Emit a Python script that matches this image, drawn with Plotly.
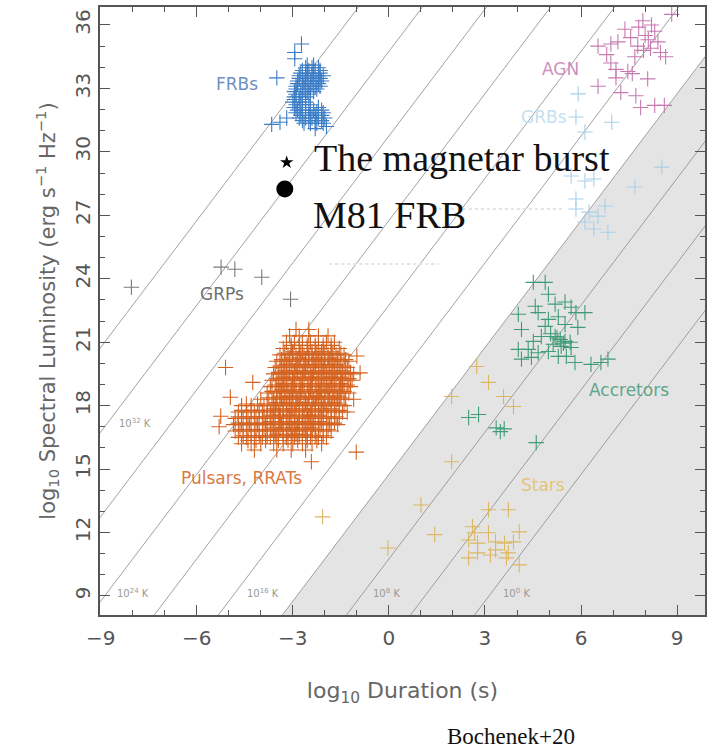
import plotly.graph_objects as go

# Axis extents (log10 duration in s, log10 spectral luminosity in erg/s/Hz)
X_RANGE = [-9.02, 9.87]
Y_RANGE = [8.1, 36.85]

# Constant brightness-temperature lines: log L = 2 log W + log T_B + TB_OFFSET
temp_exponents = [36, 32, 28, 24, 20, 16, 12, 8, 4, 0]
coherent_limit = 12
TB_OFFSET = 2.75

temp_label_text = ["10<sup>32</sup> K", "10<sup>24</sup> K", "10<sup>16</sup> K",
                   "10<sup>8</sup> K", "10<sup>0</sup> K"]
temp_label_x = [-7.94, -7.98, -3.94, -0.09, 3.98]
temp_label_y = [17.2, 9.14, 9.14, 9.14, 9.14]

# ---- populations -------------------------------------------------------
frb_rows = [
    (34.1, [-2.55, -2.35]),
    (33.975, [-2.6, -2.4, -2.2]),
    (33.85, [-2.7, -2.5, -2.3, -2.15]),
    (33.725, [-2.75, -2.55, -2.35, -2.15]),
    (33.6, [-2.8, -2.6, -2.4, -2.2, -2.05]),
    (33.475, [-2.8, -2.55, -2.35, -2.15]),
    (33.35, [-2.85, -2.65, -2.45, -2.25, -2.1]),
    (33.225, [-2.85, -2.6, -2.4, -2.2]),
    (33.1, [-2.9, -2.7, -2.5, -2.3, -2.15]),
    (32.975, [-2.9, -2.65, -2.45, -2.25]),
    (32.85, [-2.95, -2.75, -2.55, -2.35]),
    (32.725, [-2.9, -2.7, -2.5]),
    (32.6, [-2.95, -2.8, -2.6]),
    (32.475, [-2.95, -2.7]),
    (32.35, [-3.0, -2.8, -2.6]),
    (32.225, [-2.9, -2.7, -2.45]),
    (32.1, [-2.95, -2.75, -2.5, -2.2]),
    (31.975, [-2.85, -2.6, -2.35, -2.1]),
    (31.85, [-2.9, -2.7, -2.45, -2.25, -2.05]),
    (31.725, [-2.75, -2.5, -2.3, -2.1]),
    (31.6, [-2.8, -2.6, -2.4, -2.2, -2.0]),
    (31.475, [-2.7, -2.5, -2.3, -2.1]),
    (31.35, [-2.65, -2.45, -2.25, -2.05]),
]
frb_extra_x = [-2.73, -2.94, -2.94, -3.5, -3.66, -3.19, -1.95, -3.4, -2.3]
frb_extra_y = [35.1, 34.7, 34.4, 33.5, 31.3, 31.6, 31.2, 31.4, 31.1]

grp_x = [-8.04, -5.24, -4.81, -3.97, -3.07]
grp_y = [23.6, 24.55, 24.45, 24.07, 23.03]

pulsar_rows = [
    (21.6, [-2.9, -2.5]),
    (21.3, [-3.1, -2.8, -2.5, -2.2, -1.9]),
    (21.0, [-3.2, -2.95, -2.7, -2.45, -2.2, -1.95, -1.7]),
    (20.85, [-3.05, -2.8, -2.55, -2.3, -2.05, -1.8]),
    (20.7, [-3.3, -3.05, -2.8, -2.55, -2.3, -2.05, -1.8, -1.55]),
    (20.55, [-3.0, -2.7, -2.4, -2.1, -1.8]),
    (20.475, [-3.25, -3.0, -2.75, -2.5, -2.25, -2.0, -1.75, -1.5]),
    (20.4, [-3.4, -3.15, -2.9, -2.65, -2.4, -2.15, -1.9, -1.65, -1.4]),
    (20.25, [-3.1, -2.8, -2.5, -2.2, -1.9, -1.6]),
    (20.175, [-3.35, -3.1, -2.85, -2.6, -2.35, -2.1, -1.85, -1.6, -1.35]),
    (20.1, [-3.5, -3.25, -3.0, -2.75, -2.5, -2.25, -2.0, -1.75, -1.5, -1.25]),
    (19.95, [-3.2, -2.9, -2.6, -2.3, -2.0, -1.7]),
    (19.875, [-3.4, -3.15, -2.9, -2.65, -2.4, -2.15, -1.9, -1.65, -1.4]),
    (19.8, [-3.55, -3.3, -3.05, -2.8, -2.55, -2.3, -2.05, -1.8, -1.55, -1.3]),
    (19.65, [-3.25, -2.95, -2.65, -2.35, -2.05, -1.75, -1.45]),
    (19.575, [-3.45, -3.2, -2.95, -2.7, -2.45, -2.2, -1.95, -1.7, -1.45, -1.2]),
    (19.5, [-3.6, -3.35, -3.1, -2.85, -2.6, -2.35, -2.1, -1.85, -1.6, -1.35, -1.1]),
    (19.35, [-3.3, -3.0, -2.7, -2.4, -2.1, -1.8, -1.5]),
    (19.275, [-3.5, -3.25, -3.0, -2.75, -2.5, -2.25, -2.0, -1.75, -1.5, -1.25]),
    (19.2, [-3.65, -3.4, -3.15, -2.9, -2.65, -2.4, -2.15, -1.9, -1.65, -1.4, -1.15]),
    (19.05, [-3.3, -3.0, -2.7, -2.4, -2.1, -1.8, -1.5]),
    (18.975, [-3.55, -3.3, -3.05, -2.8, -2.55, -2.3, -2.05, -1.8, -1.55, -1.3]),
    (18.9, [-3.7, -3.45, -3.2, -2.95, -2.7, -2.45, -2.2, -1.95, -1.7, -1.45, -1.2]),
    (18.75, [-3.35, -3.05, -2.75, -2.45, -2.15, -1.85, -1.55]),
    (18.675, [-3.65, -3.4, -3.15, -2.9, -2.65, -2.4, -2.15, -1.9, -1.65, -1.4]),
    (18.6, [-3.8, -3.5, -3.25, -3.0, -2.75, -2.5, -2.25, -2.0, -1.75, -1.5, -1.25]),
    (18.45, [-3.4, -3.1, -2.8, -2.5, -2.2, -1.9, -1.6]),
    (18.375, [-3.75, -3.5, -3.25, -3.0, -2.75, -2.5, -2.25, -2.0, -1.75, -1.5]),
    (18.3, [-4.0, -3.6, -3.35, -3.1, -2.85, -2.6, -2.35, -2.1, -1.85, -1.6, -1.35]),
    (18.15, [-3.5, -3.2, -2.9, -2.6, -2.3, -2.0, -1.7]),
    (18.075, [-4.45, -4.1, -3.8, -3.55, -3.3, -3.05, -2.8, -2.55, -2.3, -2.05, -1.8, -1.55]),
    (18.0, [-4.6, -4.3, -3.9, -3.65, -3.4, -3.15, -2.9, -2.65, -2.4, -2.15, -1.9, -1.65, -1.4]),
    (17.85, [-3.6, -3.3, -3.0, -2.7, -2.4, -2.1, -1.8]),
    (17.775, [-4.6, -4.3, -4.05, -3.8, -3.55, -3.3, -3.05, -2.8, -2.55, -2.3, -2.05, -1.8, -1.55]),
    (17.7, [-4.7, -4.45, -4.2, -3.95, -3.7, -3.45, -3.2, -2.95, -2.7, -2.45, -2.2, -1.95, -1.7, -1.45]),
    (17.55, [-3.7, -3.4, -3.1, -2.8, -2.5, -2.2]),
    (17.475, [-4.7, -4.4, -4.15, -3.9, -3.65, -3.4, -3.15, -2.9, -2.65, -2.4, -2.15, -1.9, -1.65]),
    (17.4, [-4.8, -4.55, -4.3, -4.05, -3.8, -3.55, -3.3, -3.05, -2.8, -2.55, -2.3, -2.05, -1.8, -1.55]),
    (17.25, [-3.7, -3.4, -3.1, -2.8, -2.5, -2.2]),
    (17.175, [-4.7, -4.45, -4.2, -3.95, -3.7, -3.45, -3.2, -2.95, -2.7, -2.45, -2.2, -1.95, -1.7]),
    (17.1, [-4.85, -4.6, -4.35, -4.1, -3.85, -3.6, -3.35, -3.1, -2.85, -2.6, -2.35, -2.1, -1.85, -1.6]),
    (16.95, [-3.6, -3.3, -3.0, -2.7, -2.4]),
    (16.875, [-4.65, -4.4, -4.15, -3.9, -3.65, -3.4, -3.15, -2.9, -2.65, -2.4, -2.15, -1.9]),
    (16.8, [-4.8, -4.55, -4.3, -4.05, -3.8, -3.55, -3.3, -3.05, -2.8, -2.55, -2.3, -2.05, -1.8]),
    (16.65, [-3.5, -3.2, -2.9, -2.6]),
    (16.575, [-4.55, -4.3, -4.05, -3.8, -3.55, -3.3, -3.05, -2.8, -2.55, -2.3, -2.05]),
    (16.5, [-4.7, -4.45, -4.2, -3.95, -3.7, -3.45, -3.2, -2.95, -2.7, -2.45, -2.2, -1.95]),
    (16.35, [-4.4, -4.15, -3.85, -3.45, -3.15, -2.85, -2.55, -2.25]),
    (16.2, [-4.6, -4.3, -4.0, -3.6, -3.3, -3.0, -2.7, -2.4, -2.1]),
    (15.9, [-4.2, -3.5, -3.05, -2.6]),
]
pulsar_extra_x = [-5.1, -5.25, -5.3, -4.95, -4.25, -2.42, -1.02, -0.9, -1.0, -1.3, -1.1]
pulsar_extra_y = [19.8, 17.5, 17.0, 18.4, 19.1, 15.35, 15.8, 19.55, 20.35, 17.7, 18.3]

agn_x = [8.83, 7.93, 8.0, 8.3, 8.4, 7.37, 7.15, 6.93, 6.53, 7.77, 8.17, 8.48, 7.68,
         8.64, 6.93, 7.09, 7.46, 7.6, 8.08, 7.09, 6.53, 7.24, 7.71, 7.86, 8.3, 8.6,
         7.8, 8.1, 7.55, 8.2, 7.95, 6.8]
agn_y = [36.5, 36.2, 35.5, 35.7, 35.2, 35.8, 35.2, 35.1, 35.0, 35.0, 34.9, 34.7, 34.5,
         34.5, 34.2, 33.9, 33.8, 33.7, 33.45, 33.5, 33.1, 32.8, 32.65, 32.1, 32.2, 32.2,
         35.9, 35.3, 35.4, 36.0, 34.8, 34.6]

grb_x = [5.91, 5.84, 6.12, 6.96, 8.52, 7.68, 5.69, 6.12, 6.4, 5.84, 5.84, 6.25, 6.53,
         6.75, 6.12, 6.84, 6.4]
grb_y = [32.74, 31.65, 30.94, 31.4, 29.28, 28.34, 28.86, 28.62, 28.72, 27.77, 27.3,
         27.15, 26.96, 27.44, 26.68, 26.2, 26.35]

accretor_x = [4.51, 4.88, 4.98, 4.04, 4.57, 4.66, 5.19, 5.5, 5.69, 5.84, 6.12, 5.29,
              4.98, 4.14, 5.5, 5.9, 4.76, 5.19, 5.35, 5.5, 5.66, 5.13, 5.38, 5.69,
              4.04, 4.35, 4.66, 4.98, 5.29, 5.54, 4.14, 4.45, 5.81, 6.31, 6.62, 6.84,
              4.88, 4.51, 5.25, 5.45, 5.05,
              2.49, 2.8, 3.48, 3.35, 3.6, 4.6]
accretor_y = [23.83, 23.83, 23.27, 22.32, 22.7, 22.4, 22.8, 22.9, 22.65, 22.4, 22.4, 22.2,
              22.08, 21.6, 21.84, 21.7, 21.27, 21.27, 21.13, 21.04, 21.0, 20.9, 20.8, 20.75,
              20.66, 20.66, 20.5, 20.56, 20.33, 20.33, 20.2, 20.28, 20.04, 19.95, 20.04, 20.2,
              21.75, 21.04, 21.2, 20.95, 21.4,
              17.44, 17.58, 16.77, 16.95, 16.9, 16.25]

star_x = [2.74, 3.11, 1.96, 3.58, 3.89, 1.96, -2.07, 1.0, 1.43, -0.03,
          3.11, 3.73, 2.61, 2.68, 3.11, 2.49, 2.77, 3.33, 3.61, 3.89, 4.07,
          3.33, 3.73, 2.49, 2.77, 3.67, 4.07, 3.17]
star_y = [19.85, 19.1, 18.43, 18.43, 17.96, 15.35, 12.74, 13.3, 11.9, 11.27,
          13.08, 13.08, 12.27, 11.99, 11.99, 11.65, 11.5, 11.56, 11.5, 11.56, 12.03,
          11.18, 11.04, 10.8, 11.04, 10.8, 10.47, 10.94]

# Faint horizontal streaks
streak_x = [[-1.86, 1.56], [1.56, 5.44]]
streak_y = [24.7, 27.3]

# Highlighted sources
magnetar_x, magnetar_y = [-3.19], [29.5]
m81_x, m81_y = [-3.25], [28.24]

group_labels = ["FRBs", "GRPs", "Pulsars, RRATs", "AGN", "Accretors", "Stars", "GRBs"]
group_label_x = [-4.75, -5.21, -4.59, 5.35, 7.49, 4.82, 4.85]
group_label_y = [33.2, 23.27, 14.59, 33.93, 18.76, 14.26, 31.65]
group_label_colors = ["#6f8fbf", "#6f6f6f", "#da7a45", "#cf8fc0", "#5fa58a", "#e5c47c", "#c4e0f0"]

FRB_C = "#3b7cc6"
GRP_C = "#7a7a7a"
PSR_C = "#d4621f"
AGN_C = "#c77ab0"
GRB_C = "#a8d0ea"
ACC_C = "#3f9c76"
STAR_C = "#dcb663"


def expand(rows):
    xs, ys = [], []
    for y, row in rows:
        xs.extend(row)
        ys.extend([y] * len(row))
    return xs, ys


fig = go.Figure()

# Incoherent region (below the coherence limit)
c12 = coherent_limit + TB_OFFSET
fig.add_trace(go.Scatter(
    x=[(Y_RANGE[0] - c12) / 2, X_RANGE[1] + 1, X_RANGE[1] + 1],
    y=[Y_RANGE[0], Y_RANGE[0], 2 * (X_RANGE[1] + 1) + c12],
    fill="toself", fillcolor="#e4e4e4", mode="lines", line=dict(width=0),
    hoverinfo="skip", showlegend=False))

# Brightness-temperature lines
for t in temp_exponents:
    xs = [-12, 12]
    fig.add_trace(go.Scatter(
        x=xs, y=[2 * v + t + TB_OFFSET for v in xs], mode="lines",
        line=dict(color="#8a8a8a", width=0.8), hoverinfo="skip", showlegend=False))

for sx, sy in zip(streak_x, streak_y):
    fig.add_trace(go.Scatter(
        x=sx, y=[sy, sy], mode="lines",
        line=dict(color="#dfe6ea", width=2, dash="dot"),
        hoverinfo="skip", showlegend=False))


def crosses(x, y, color, size=11):
    fig.add_trace(go.Scatter(
        x=x, y=y, mode="markers",
        marker=dict(symbol="cross-thin", size=size, color=color,
                    line=dict(width=1.1, color=color)),
        showlegend=False))


fx, fy = expand(frb_rows)
crosses(fx + frb_extra_x, fy + frb_extra_y, FRB_C)
crosses(grp_x, grp_y, GRP_C)
px_, py_ = expand(pulsar_rows)
crosses(px_ + pulsar_extra_x, py_ + pulsar_extra_y, PSR_C)
crosses(grb_x, grb_y, GRB_C)
crosses(agn_x, agn_y, AGN_C)
crosses(accretor_x, accretor_y, ACC_C)
crosses(star_x, star_y, STAR_C)

fig.add_trace(go.Scatter(x=magnetar_x, y=magnetar_y, mode="markers",
                         marker=dict(symbol="star", size=10, color="black"),
                         showlegend=False))
fig.add_trace(go.Scatter(x=m81_x, y=m81_y, mode="markers",
                         marker=dict(symbol="circle", size=17, color="black"),
                         showlegend=False))

annotations = []
for txt, x, y in zip(temp_label_text, temp_label_x, temp_label_y):
    annotations.append(dict(x=x, y=y, text=txt, showarrow=False,
                            font=dict(family="DejaVu Sans", size=10, color="#9a9a9a")))
for txt, x, y, c in zip(group_labels, group_label_x, group_label_y, group_label_colors):
    annotations.append(dict(x=x, y=y, text=txt, showarrow=False,
                            font=dict(family="DejaVu Sans", size=17, color=c)))

annotations.append(dict(x=-2.39, y=29.71, text="The magnetar burst", showarrow=False,
                        xanchor="left", yanchor="middle",
                        font=dict(family="Liberation Serif", size=38, color="#111111")))
annotations.append(dict(x=-2.42, y=27.0, text="M81 FRB", showarrow=False,
                        xanchor="left", yanchor="middle",
                        font=dict(family="Liberation Serif", size=38, color="#111111")))
annotations.append(dict(x=0.68, y=-0.2, xref="paper", yref="paper", text="Bochenek+20",
                        showarrow=False, xanchor="center", yanchor="middle",
                        font=dict(family="Liberation Serif", size=23, color="#111111")))

axis_common = dict(
    showline=True, linecolor="#555555", linewidth=1.5, mirror="ticks",
    ticks="inside", ticklen=10, tickwidth=1.3, tickcolor="#555555",
    showgrid=False, zeroline=False, dtick=3, tick0=0,
    minor=dict(ticks="inside", ticklen=5, dtick=1, tickcolor="#555555", tickwidth=1.2),
    tickfont=dict(family="DejaVu Sans", size=20, color="#555555"),
)

fig.update_layout(
    width=708, height=749,
    margin=dict(l=100, r=1, t=7, b=134),
    paper_bgcolor="white", plot_bgcolor="white",
    showlegend=False,
    annotations=annotations,
    xaxis=dict(range=X_RANGE, ticklabelstandoff=4, **axis_common,
               title=dict(text="log<sub>10</sub> Duration (s)", standoff=34,
                          font=dict(family="DejaVu Sans", size=22, color="#666666"))),
    yaxis=dict(range=Y_RANGE, tickangle=-90, **axis_common,
               title=dict(text="log<sub>10</sub> Spectral Luminosity (erg s<sup>−1</sup> Hz<sup>−1</sup>)",
                          standoff=10,
                          font=dict(family="DejaVu Sans", size=21, color="#666666"))),
)

fig.write_html("out.html")
